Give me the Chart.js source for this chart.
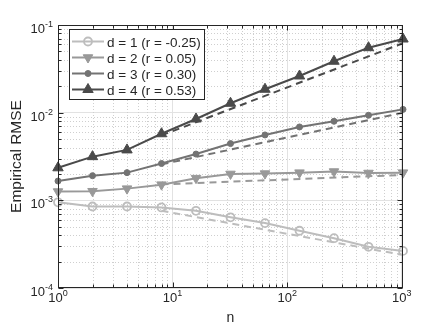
<!DOCTYPE html>
<html>
<head>
<meta charset="utf-8">
<script src="https://cdn.jsdelivr.net/npm/chart.js@4"></script>
<style>
  body { margin: 0; background: #fff; }
</style>
</head>
<body>
<canvas id="myChart" width="446" height="335"></canvas>
<script>
// sample sizes (powers of two)
const nValues = [1, 2, 4, 8, 16, 32, 64, 128, 256, 512, 1024];

// empirical RMSE per dimension d
const rmseD1 = [9.5e-4, 8.5e-4, 8.5e-4, 8.3e-4, 7.6e-4, 6.4e-4, 5.5e-4, 4.5e-4, 3.7e-4, 2.95e-4, 2.65e-4];
const rmseD2 = [1.26e-3, 1.27e-3, 1.36e-3, 1.51e-3, 1.79e-3, 2.0e-3, 2.02e-3, 2.07e-3, 2.13e-3, 2.05e-3, 2.07e-3];
const rmseD3 = [1.66e-3, 1.91e-3, 2.07e-3, 2.63e-3, 3.37e-3, 4.44e-3, 5.57e-3, 6.87e-3, 7.98e-3, 9.34e-3, 1.09e-2];
const rmseD4 = [2.35e-3, 3.15e-3, 3.76e-3, 5.75e-3, 8.47e-3, 1.28e-2, 1.85e-2, 2.62e-2, 3.86e-2, 5.51e-2, 6.92e-2];

// dashed reference lines (start / end)
const refN = [8, 1024];
const refD1 = [7.6e-4, 2.38e-4];
const refD2 = [1.52e-3, 1.95e-3];
const refD3 = [2.57e-3, 1.0e-2];
const refD4 = [5.5e-3, 6.2e-2];

const legendLabels = [
  'd = 1 (r = -0.25)',
  'd = 2 (r = 0.05)',
  'd = 3 (r = 0.30)',
  'd = 4 (r = 0.53)'
];

const xTickValues = [1, 10, 100, 1000];
const yTickValues = [1e-4, 1e-3, 1e-2, 1e-1];

const FONT = '"Liberation Sans", Arial, Helvetica, sans-serif';
const colors = ['#bdbdbd', '#999999', '#737373', '#4a4a4a'];
const markers = [
  { pointStyle: 'circle', radius: 4, rotation: 0, fill: 'rgba(0,0,0,0)' },
  { pointStyle: 'triangle', radius: 5.5, rotation: 180, fill: colors[1] },
  { pointStyle: 'circle', radius: 3, rotation: 0, fill: colors[2] },
  { pointStyle: 'triangle', radius: 6, rotation: 0, fill: colors[3] }
];

const toPoints = (xs, ys) => xs.map((x, i) => ({ x: x, y: ys[i] }));

const series = [rmseD1, rmseD2, rmseD3, rmseD4];
const refs = [refD1, refD2, refD3, refD4];

const datasets = [];
refs.forEach((r, i) => {
  datasets.push({
    label: 'ref' + (i + 1),
    data: toPoints(refN, r),
    borderColor: colors[i],
    borderWidth: 2,
    borderDash: [7, 5],
    pointRadius: 0,
    fill: false,
    clip: false
  });
});
series.forEach((s, i) => {
  datasets.push({
    label: legendLabels[i],
    data: toPoints(nValues, s),
    borderColor: colors[i],
    backgroundColor: markers[i].fill,
    borderWidth: 2,
    pointStyle: markers[i].pointStyle,
    pointRotation: markers[i].rotation,
    pointRadius: markers[i].radius,
    pointBorderWidth: i === 0 ? 1.8 : 1,
    pointBorderColor: colors[i],
    pointBackgroundColor: markers[i].fill,
    fill: false,
    clip: false
  });
});

function supers(v) {
  return String(Math.round(Math.log10(v)));
}

// matlab-ish decorations: minor grid, box, inward ticks, tick labels, legend
const decor = {
  id: 'decor',
  beforeDatasetsDraw(chart) {
    const ctx = chart.ctx, a = chart.chartArea;
    const xs = chart.scales.x, ys = chart.scales.y;
    ctx.save();
    ctx.strokeStyle = '#cfcfcf';
    ctx.lineWidth = 1;
    ctx.setLineDash([1, 2]);
    for (let e = 0; e < 4; e++) {
      for (let m = 2; m <= 9; m++) {
        const v = m * Math.pow(10, e);
        if (v > xs.max) break;
        const px = Math.round(xs.getPixelForValue(v)) + 0.5;
        ctx.beginPath(); ctx.moveTo(px, a.top); ctx.lineTo(px, a.bottom); ctx.stroke();
      }
    }
    for (let e = -4; e < -1; e++) {
      for (let m = 2; m <= 9; m++) {
        const py = Math.round(ys.getPixelForValue(m * Math.pow(10, e))) + 0.5;
        ctx.beginPath(); ctx.moveTo(a.left, py); ctx.lineTo(a.right, py); ctx.stroke();
      }
    }
    ctx.restore();
  },
  afterDraw(chart) {
    const ctx = chart.ctx, a = chart.chartArea;
    const xs = chart.scales.x, ys = chart.scales.y;
    ctx.save();
    // box
    ctx.strokeStyle = '#262626';
    ctx.lineWidth = 1;
    const L = Math.round(a.left) + 0.5, R = Math.round(a.right) - 0.5;
    const T = Math.round(a.top) + 0.5, B = Math.round(a.bottom) - 0.5;
    ctx.strokeRect(L, T, R - L, B - T);
    // inward ticks
    ctx.beginPath();
    for (let e = 0; e < 4; e++) {
      for (let m = 1; m <= 9; m++) {
        const v = m * Math.pow(10, e);
        if (v > xs.max) break;
        const len = m === 1 ? 5 : 3;
        const px = Math.round(xs.getPixelForValue(v)) + 0.5;
        ctx.moveTo(px, B); ctx.lineTo(px, B - len);
        ctx.moveTo(px, T); ctx.lineTo(px, T + len);
      }
    }
    for (let e = -4; e < 0; e++) {
      for (let m = 1; m <= 9; m++) {
        const v = m * Math.pow(10, e);
        if (v > ys.max * 1.0001) break;
        const len = m === 1 ? 5 : 3;
        const py = Math.round(ys.getPixelForValue(v)) + 0.5;
        ctx.moveTo(L, py); ctx.lineTo(L + len, py);
        ctx.moveTo(R, py); ctx.lineTo(R - len, py);
      }
    }
    ctx.stroke();

    // tick labels 10^k
    ctx.fillStyle = '#262626';
    ctx.textBaseline = 'alphabetic';
    ctx.textAlign = 'left';
    const baseFont = '13px ' + FONT, expFont = '9px ' + FONT;
    function label(v, x, y, align) {
      ctx.font = baseFont;
      const w1 = ctx.measureText('10').width;
      ctx.font = expFont;
      const ex = supers(v);
      const w2 = ctx.measureText(ex).width;
      const total = w1 + w2;
      const sx = align === 'center' ? x - total / 2 : x - total;
      ctx.font = baseFont;
      ctx.fillText('10', sx, y);
      ctx.font = expFont;
      ctx.fillText(ex, sx + w1, y - 6);
    }
    xTickValues.forEach(v => label(v, xs.getPixelForValue(v), a.bottom + 14, 'center'));
    yTickValues.forEach(v => label(v, a.left - 5, ys.getPixelForValue(v) + 8, 'right'));

    // legend
    const lx = 69.5, ly = 29.5, lw = 135, lh = 70;
    ctx.fillStyle = '#ffffff';
    ctx.fillRect(lx, ly, lw, lh);
    ctx.strokeStyle = '#262626';
    ctx.strokeRect(lx, ly, lw, lh);
    legendLabels.forEach((txt, i) => {
      const y = 41.5 + i * 16;
      ctx.strokeStyle = colors[i];
      ctx.lineWidth = 2;
      ctx.beginPath(); ctx.moveTo(72, y); ctx.lineTo(104, y); ctx.stroke();
      ctx.fillStyle = markers[i].fill;
      ctx.lineWidth = i === 0 ? 1.8 : 1;
      Chart.helpers.drawPoint(ctx, {
        pointStyle: markers[i].pointStyle,
        rotation: markers[i].rotation,
        radius: markers[i].radius,
        borderWidth: ctx.lineWidth
      }, 88, y);
      ctx.fillStyle = '#262626';
      ctx.font = '13.5px ' + FONT;
      ctx.fillText(txt, 107, y + 5);
    });
    ctx.restore();
  }
};

const config = {
  type: 'line',
  data: { datasets: datasets },
  options: {
    responsive: false,
    devicePixelRatio: 1,
    animation: false,
    layout: { padding: { top: 25, right: 43, left: 0, bottom: 0 } },
    plugins: {
      legend: { display: false },
      tooltip: { enabled: false }
    },
    scales: {
      x: {
        type: 'logarithmic',
        min: 1,
        max: 1024,
        afterBuildTicks: s => { s.ticks = xTickValues.map(v => ({ value: v })); },
        afterFit: s => { s.height = 47; },
        ticks: { display: false },
        grid: { color: '#e2e2e2', drawTicks: false },
        border: { display: false },
        title: {
          display: true,
          text: 'n',
          color: '#262626',
          font: { family: FONT, size: 14 },
          padding: { top: 0, bottom: 8 }
        }
      },
      y: {
        type: 'logarithmic',
        min: 1e-4,
        max: 1e-1,
        afterBuildTicks: s => { s.ticks = yTickValues.map(v => ({ value: v })); },
        afterFit: s => { s.width = 58; },
        ticks: { display: false },
        grid: { color: '#e2e2e2', drawTicks: false },
        border: { display: false },
        title: {
          display: true,
          text: 'Empirical RMSE',
          color: '#262626',
          font: { family: FONT, size: 15.5 },
          padding: { top: 7, bottom: 0 }
        }
      }
    }
  },
  plugins: [decor]
};

const myChart = new Chart(document.getElementById('myChart'), config);
</script>
</body>
</html>
